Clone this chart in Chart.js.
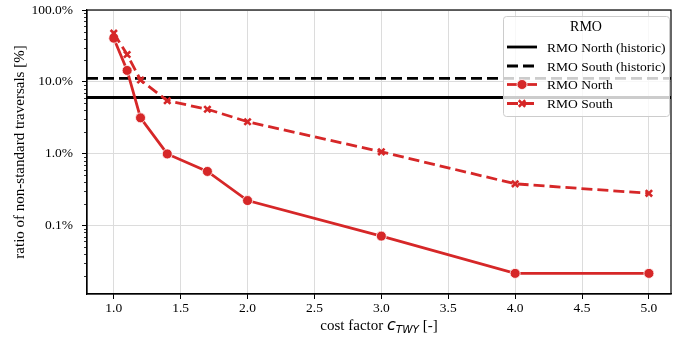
<!DOCTYPE html>
<html>
<head>
<meta charset="utf-8">
<script src="https://cdn.jsdelivr.net/npm/chart.js@4.4.1/dist/chart.umd.min.js"></script>
<style>
  html, body { margin: 0; padding: 0; background: #fff; }
  #wrap { width: 673px; height: 349px; }
</style>
</head>
<body>
<div id="wrap"><canvas id="chart"></canvas></div>
<script>
/* ── Données ──────────────────────────────────────────────────── */
const COST_FACTOR    = [1.0, 1.1, 1.2, 1.4, 1.7, 2.0, 3.0, 4.0, 5.0];
const RMO_NORTH      = [40.5, 14.4, 3.15, 0.99, 0.565, 0.222, 0.071, 0.0215, 0.0215];
const RMO_SOUTH      = [47.5, 24.0, 10.6, 5.45, 4.15, 2.78, 1.06, 0.38, 0.28];
const NORTH_HISTORIC = 6.05;
const SOUTH_HISTORIC = 11.2;

const X_TICKS  = [1.0, 1.5, 2.0, 2.5, 3.0, 3.5, 4.0, 4.5, 5.0];
const Y_TICKS  = [0.1, 1, 10, 100];
const Y_MINOR  = [2, 3, 4, 5, 6, 7, 8, 9];
const X_MIN = 0.8, X_MAX = 5.165;
const Y_MIN = 0.0111, Y_MAX = 100;

const LEGEND_TITLE = 'RMO';
const LABELS = ['RMO North (historic)', 'RMO South (historic)', 'RMO North', 'RMO South'];

const RED   = '#d62728';
const SERIF = '"Liberation Serif", "Times New Roman", serif';
const FS    = 13.5;   // graduations, légende
const FS_AX = 15;     // titres d'axes

Chart.defaults.font.family = SERIF;
Chart.defaults.color = '#000';

/* ── Plugins : cadre, petites graduations, légende, titre X ──── */
const framePlugin = {
  id: 'frame',
  afterDatasetsDraw(chart) {
    const { ctx, chartArea: a, scales: { y } } = chart;
    ctx.save();
    // graduations mineures (log)
    ctx.strokeStyle = '#000';
    ctx.lineWidth = 0.8;
    for (let d = -2; d <= 1; d++) {
      Y_MINOR.forEach(f => {
        const v = f * Math.pow(10, d);
        if (v < Y_MIN || v > Y_MAX) return;
        const py = Math.round(y.getPixelForValue(v)) + 0.5;
        ctx.beginPath();
        ctx.moveTo(a.left - 3, py);
        ctx.lineTo(a.left, py);
        ctx.stroke();
      });
    }
    // cadre
    ctx.lineWidth = 1.2;
    ctx.strokeRect(a.left, a.top, a.right - a.left, a.bottom - a.top);
    ctx.restore();
  },
};

function drawSample(ctx, x0, x1, yy, ds) {
  ctx.save();
  ctx.strokeStyle = ds.borderColor;
  ctx.lineWidth = ds.borderWidth;
  ctx.setLineDash(ds.borderDash || []);
  ctx.beginPath();
  ctx.moveTo(x0, yy);
  ctx.lineTo(x1, yy);
  ctx.stroke();
  ctx.setLineDash([]);
  const cx = (x0 + x1) / 2;
  if (ds.pointStyle === 'circle' && ds.pointRadius) {
    ctx.fillStyle = ds.pointBackgroundColor;
    ctx.strokeStyle = '#fff';
    ctx.lineWidth = 0.8;
    ctx.beginPath();
    ctx.arc(cx, yy, ds.pointRadius, 0, Math.PI * 2);
    ctx.fill();
    ctx.stroke();
  } else if (ds.pointStyle === 'crossRot' && ds.pointRadius) {
    const r = ds.pointRadius * 0.72;
    ctx.strokeStyle = ds.pointBorderColor;
    ctx.lineWidth = ds.pointBorderWidth;
    ctx.beginPath();
    ctx.moveTo(cx - r, yy - r); ctx.lineTo(cx + r, yy + r);
    ctx.moveTo(cx - r, yy + r); ctx.lineTo(cx + r, yy - r);
    ctx.stroke();
  }
  ctx.restore();
}

const legendPlugin = {
  id: 'boxLegend',
  afterDatasetsDraw(chart) {
    const { ctx } = chart;
    const bx = 503, by = 16, bw = 166, bh = 100;
    ctx.save();
    ctx.fillStyle = 'rgba(255,255,255,0.8)';
    ctx.strokeStyle = '#cccccc';
    ctx.lineWidth = 1;
    ctx.beginPath();
    ctx.roundRect(bx + 0.5, by + 0.5, bw, bh, 3);
    ctx.fill();
    ctx.stroke();

    ctx.fillStyle = '#000';
    ctx.font = `${FS + 0.5}px ${SERIF}`;
    ctx.textBaseline = 'middle';
    ctx.textAlign = 'center';
    ctx.fillText(LEGEND_TITLE, bx + bw / 2, by + 11);

    ctx.font = `${FS}px ${SERIF}`;
    ctx.textAlign = 'left';
    const rows = [31, 50, 68.5, 87.5];
    const byLabel = {};
    chart.data.datasets.forEach(ds => { byLabel[ds.label] = ds; });
    LABELS.forEach((lab, i) => {
      const yy = by + rows[i];
      drawSample(ctx, bx + 4, bx + 34, yy, byLabel[lab]);
      ctx.fillStyle = '#000';
      ctx.fillText(lab, bx + 44, yy + 1);
    });
    ctx.restore();
  },
};

const xTitlePlugin = {
  id: 'xTitle',
  afterDraw(chart) {
    const { ctx, chartArea: a } = chart;
    const parts = [
      { t: 'cost factor ', font: `${FS_AX}px ${SERIF}`, dy: 0 },
      { t: 'c', font: `italic 16px "DejaVu Sans"`, dy: 0 },
      { t: 'TWY', font: `italic 10.5px "DejaVu Sans"`, dy: 2.5 },
      { t: ' [-]', font: `${FS_AX}px ${SERIF}`, dy: 0 },
    ];
    ctx.save();
    ctx.fillStyle = '#000';
    ctx.textBaseline = 'alphabetic';
    ctx.textAlign = 'left';
    let total = 0;
    parts.forEach(p => { ctx.font = p.font; p.w = ctx.measureText(p.t).width; total += p.w; });
    let x = (a.left + a.right) / 2 - total / 2;
    const base = 330;
    parts.forEach(p => {
      ctx.font = p.font;
      ctx.fillText(p.t, x, base + p.dy);
      x += p.w;
    });
    ctx.restore();
  },
};

/* ── Graphique ───────────────────────────────────────────────── */
const toXY = arr => COST_FACTOR.map((x, i) => ({ x, y: arr[i] }));

new Chart(document.getElementById('chart'), {
  type: 'line',
  data: {
    datasets: [
      {
        label: 'RMO North', data: toXY(RMO_NORTH), order: 1,
        borderColor: RED, borderWidth: 2.8,
        pointStyle: 'circle', pointRadius: 5,
        pointBackgroundColor: RED, pointBorderColor: '#fff', pointBorderWidth: 0.8,
      },
      {
        label: 'RMO South', data: toXY(RMO_SOUTH), order: 0,
        borderColor: RED, borderWidth: 2.8, borderDash: [11, 5],
        pointStyle: 'crossRot', pointRadius: 4.5,
        pointBackgroundColor: RED, pointBorderColor: RED, pointBorderWidth: 2.6,
      },
      {
        label: 'RMO North (historic)', order: 3,
        data: [{ x: X_MIN, y: NORTH_HISTORIC }, { x: X_MAX, y: NORTH_HISTORIC }],
        borderColor: '#000', borderWidth: 2.8, pointRadius: 0,
      },
      {
        label: 'RMO South (historic)', order: 2,
        data: [{ x: X_MIN, y: SOUTH_HISTORIC }, { x: X_MAX, y: SOUTH_HISTORIC }],
        borderColor: '#000', borderWidth: 2.8, borderDash: [11, 5], pointRadius: 0,
      },
    ],
  },
  options: {
    responsive: true, maintainAspectRatio: false, animation: false,
    layout: { autoPadding: false, padding: { top: 10, right: 2, left: 0, bottom: 0 } },
    plugins: { legend: { display: false }, tooltip: { enabled: false } },
    scales: {
      x: {
        type: 'linear', min: X_MIN, max: X_MAX,
        afterBuildTicks: s => { s.ticks = X_TICKS.map(v => ({ value: v })); },
        afterFit: s => { s.height = 55; s.paddingLeft = 0; s.paddingRight = 0; },
        grid: { color: '#dcdcdc', lineWidth: 1, tickLength: 5, tickColor: '#000', tickWidth: 1 },
        border: { color: '#000', width: 1.2 },
        ticks: { font: { family: SERIF, size: FS }, color: '#000', padding: 1, maxRotation: 0,
                 callback: v => Number(v).toFixed(1) },
      },
      y: {
        type: 'logarithmic', min: Y_MIN, max: Y_MAX,
        afterBuildTicks: s => { s.ticks = Y_TICKS.map(v => ({ value: v })); },
        afterFit: s => { s.width = 87; s.paddingTop = 0; s.paddingBottom = 0; },
        grid: { color: '#dcdcdc', lineWidth: 1, tickLength: 5, tickColor: '#000', tickWidth: 1 },
        border: { color: '#000', width: 1.2 },
        ticks: { font: { family: SERIF, size: FS }, color: '#000', padding: 9,
                 callback: v => Number(v).toFixed(1) + '%' },
        title: {
          display: true, text: 'ratio of non-standard traversals [%]', color: '#000',
          font: { family: SERIF, size: FS_AX }, padding: { top: 11, bottom: 0 },
        },
      },
    },
  },
  plugins: [framePlugin, legendPlugin, xTitlePlugin],
});
</script>
</body>
</html>
